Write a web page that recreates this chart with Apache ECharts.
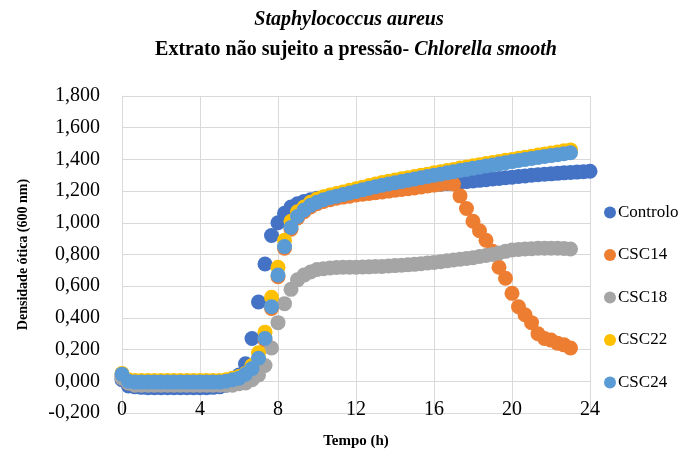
<!DOCTYPE html>
<html>
<head>
<meta charset="utf-8">
<script src="https://cdn.jsdelivr.net/npm/echarts@6/dist/echarts.min.js"></script>
<style>
html,body{margin:0;padding:0;background:#fff;}
#chart{width:683px;height:455px;}
</style>
</head>
<body>
<div id="chart"></div>
<script>
// time in minutes (20-min readings)
const timeMin = [0,20,40,60,80,100,120,140,160,180,200,220,240,260,280,300,320,340,360,380,400,420,440,460,480,500,520,540,560,580,600,620,640,660,680,700,720,740,760,780,800,820,840,860,880,900,920,940,960,980,1000,1020,1040,1060,1080,1100,1120,1140,1160,1180,1200,1220,1240,1260,1280,1300,1320,1340,1360,1380,1400,1420,1440];
const xTicksHours = [0,4,8,12,16,20,24];

const controlo = [0.01,-0.03,-0.035,-0.038,-0.04,-0.04,-0.04,-0.04,-0.04,-0.04,-0.04,-0.04,-0.04,-0.04,-0.038,-0.035,
  -0.025,-0.005,0.04,0.11,0.27,0.50,0.74,0.92,1.00,1.06,1.10,1.12,1.135,1.145,1.155,1.16,1.165,1.17,1.175,1.18,1.185,1.19,1.193,1.197,1.20,1.205,1.21,1.215,1.22,1.225,1.23,1.235,1.24,1.244,1.248,1.252,1.256,1.26,1.264,1.268,1.272,1.276,1.28,1.284,1.288,1.292,1.296,1.30,1.303,1.306,1.309,1.312,1.315,1.318,1.32,1.322,1.325];

const csc14 = [0.03,-0.01,-0.015,-0.015,-0.015,-0.015,-0.015,-0.015,-0.015,-0.015,-0.015,-0.015,-0.015,-0.015,-0.015,-0.015,
  -0.01,0.0,0.01,0.04,0.08,0.14,0.26,0.46,0.66,0.84,0.96,1.03,1.07,1.10,1.12,1.135,1.145,1.155,1.162,1.168,1.175,1.18,1.185,1.19,1.195,1.20,1.205,1.21,1.215,1.22,1.226,1.232,1.238,1.244,1.25,1.245,
  1.17,1.09,1.01,0.95,0.89,0.82,0.72,0.65,0.555,0.47,0.42,0.37,0.30,0.27,0.26,0.24,0.23,0.21];

const csc18 = [0.02,-0.01,-0.025,-0.025,-0.025,-0.025,-0.025,-0.025,-0.025,-0.025,-0.025,-0.025,-0.025,-0.025,-0.025,-0.025,-0.025,-0.025,
  -0.015,-0.01,0.01,0.04,0.10,0.21,0.37,0.49,0.58,0.64,0.67,0.69,0.705,0.71,0.715,0.718,0.72,0.72,0.72,0.721,0.722,0.724,0.725,0.727,0.73,0.732,0.735,0.738,0.742,0.746,0.75,0.755,0.76,0.765,0.77,0.775,0.78,0.787,0.794,0.80,0.81,0.82,0.828,0.832,0.835,0.837,0.839,0.84,0.84,0.84,0.838,0.835];

const csc22 = [0.05,0.01,0.005,0.005,0.005,0.005,0.005,0.005,0.005,0.005,0.005,0.005,0.005,0.005,0.005,0.005,
  0.01,0.02,0.03,0.05,0.10,0.18,0.31,0.53,0.72,0.89,1.01,1.07,1.10,1.13,1.15,1.165,1.175,1.185,1.195,1.205,1.215,1.225,1.235,1.245,1.255,1.262,1.27,1.278,1.285,1.292,1.30,1.307,1.315,1.322,1.33,1.337,1.345,1.352,1.36,1.367,1.374,1.38,1.387,1.394,1.40,1.407,1.414,1.42,1.427,1.434,1.44,1.447,1.454,1.46];

const csc24 = [0.045,0.0,-0.005,-0.005,-0.005,-0.005,-0.005,-0.005,-0.005,-0.005,-0.005,-0.005,-0.005,-0.005,-0.005,-0.005,
  0.0,0.01,0.02,0.045,0.08,0.145,0.27,0.47,0.67,0.85,0.97,1.04,1.08,1.11,1.13,1.145,1.158,1.168,1.178,1.188,1.198,1.208,1.218,1.228,1.237,1.245,1.253,1.261,1.269,1.277,1.285,1.292,1.30,1.307,1.315,1.322,1.33,1.337,1.344,1.351,1.358,1.365,1.372,1.379,1.386,1.393,1.40,1.406,1.412,1.418,1.424,1.43,1.436,1.442];

const seriesNames = ['Controlo','CSC14','CSC18','CSC22','CSC24'];
const seriesValues = [controlo, csc14, csc18, csc22, csc24];
const colors = ['#4472C4','#ED7D31','#A5A5A5','#FFC000','#5B9BD5'];

const serif = '"Liberation Serif","Times New Roman",serif';

const chart = echarts.init(document.getElementById('chart'), null, {renderer:'canvas'});
chart.setOption({
  animation:false,
  color: colors,
  title:[
    {text:'Staphylococcus aureus', left:344, textAlign:'center', top:5,
     textStyle:{fontFamily:serif, fontSize:20, fontWeight:'bold', fontStyle:'italic', color:'#000'}},
    {text:'{b|Extrato não sujeito a pressão- }{bi|Chlorella smooth}', left:351, textAlign:'center', top:35,
     textStyle:{rich:{
       b:{fontFamily:serif, fontSize:20, fontWeight:'bold', color:'#000'},
       bi:{fontFamily:serif, fontSize:20, fontWeight:'bold', fontStyle:'italic', color:'#000'}}}}
  ],
  grid:{left:122, right:93, top:96, bottom:42},
  legend:{
    orient:'vertical', left:599, top:199, itemGap:25.5, itemWidth:12, itemHeight:12,
    icon:'circle', data:seriesNames,
    textStyle:{fontFamily:serif, fontSize:17, color:'#000', padding:[0,0,0,-3]}
  },
  xAxis:{
    type:'value', min:0, max:1440, interval:240,
    name:'Tempo (h)', nameLocation:'middle', nameGap:21,
    nameTextStyle:{fontFamily:serif, fontSize:15, fontWeight:'bold', color:'#000'},
    axisLine:{show:false}, axisTick:{show:false},
    axisLabel:{fontFamily:serif, fontSize:20, color:'#000', margin:-13,
      formatter:function(v){ const h=v/60; return xTicksHours.indexOf(h)>=0 ? String(h) : ''; }},
    splitLine:{show:true, lineStyle:{color:'#D9D9D9', width:1}}
  },
  yAxis:{
    type:'value', min:-0.2, max:1.8, interval:0.2,
    name:'Densidade ótica (600 nm)', nameLocation:'middle', nameGap:92,
    nameTextStyle:{fontFamily:serif, fontSize:14, fontWeight:'bold', color:'#000'},
    axisLine:{show:true, lineStyle:{color:'#D9D9D9'}}, axisTick:{show:false},
    axisLabel:{fontFamily:serif, fontSize:20, color:'#000', margin:22,
      formatter:function(v){ return v.toFixed(3).replace('.',','); }},
    splitLine:{show:true, lineStyle:{color:'#D9D9D9', width:1}}
  },
  series: seriesNames.map(function(n,k){
    return {
      name:n, type:'scatter', symbol:'circle', symbolSize:15,
      itemStyle:{color:colors[k], opacity:1},
      emphasis:{disabled:true},
      data: seriesValues[k].map(function(v,i){ return [timeMin[i], v]; })
    };
  })
});
</script>
</body>
</html>
